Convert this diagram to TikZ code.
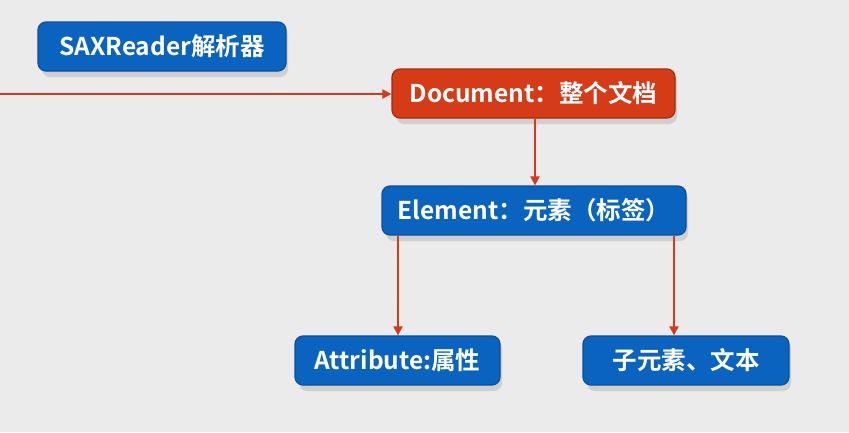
\documentclass[tikz,border=0pt]{standalone}
\usepackage{fontspec}
\setmainfont{Noto Sans CJK SC}[BoldFont={Noto Sans CJK SC Bold}]
\usetikzlibrary{arrows.meta}
\definecolor{bg}{HTML}{EBEBEB}
\definecolor{bluef}{HTML}{0B63C0}
\definecolor{blued}{HTML}{0A4E9C}
\definecolor{redf}{HTML}{D53B17}
\definecolor{redd}{HTML}{A82A0C}
\definecolor{arr}{HTML}{D9381A}
\definecolor{shad}{HTML}{CFCFCF}
\tikzset{
  box/.style={draw=blued, fill=bluef, line width=1.2pt, rounded corners=8pt,
    text=white, font=\bfseries\fontsize{24.5}{28}\selectfont, inner sep=0pt,
    anchor=center},
  redbox/.style={box, draw=redd, fill=redf},
  conn/.style={arr, line width=2pt, -{Triangle[length=9pt,width=9pt]}},
}
\begin{document}
\begin{tikzpicture}[x=1pt,y=-1pt]
\fill[bg] (0,0) rectangle (849,432);
\useasboundingbox (0,0) rectangle (849,432);
% shadows
\foreach \a/\b/\c/\d in {38/22/286/71, 392/69/675/118, 382/186/686/235, 295/336/500/385, 583/336/789/385}{
  \fill[shad, rounded corners=8pt] (\a+4,\b+5) rectangle (\c+2,\d+6);
}
\node[box, minimum width=248pt, minimum height=49pt] (sax) at (162,46.5) {SAXReader解析器};
\node[redbox, minimum width=283pt, minimum height=49pt] (doc) at (533.5,93.5) {Document：整个文档};
\node[box, minimum width=304pt, minimum height=49pt] (ele) at (534,210.5) {Element：元素（标签）};
\node[box, minimum width=205pt, minimum height=49pt] (att) at (397.5,360.5) {Attribute:属性};
\node[box, minimum width=206pt, minimum height=49pt] (sub) at (686,360.5) {子元素、文本};
\coordinate (in) at (0,94);
\draw[conn] (in) -- (doc.west |- in);
\draw[conn] (doc.south -| 535,0) -- (ele.north -| 535,0);
\draw[conn] (ele.south -| 398,0) -- (att.north -| 398,0);
\draw[conn] (ele.south -| 674,0) -- (sub.north -| 674,0);
\end{tikzpicture}
\end{document}
